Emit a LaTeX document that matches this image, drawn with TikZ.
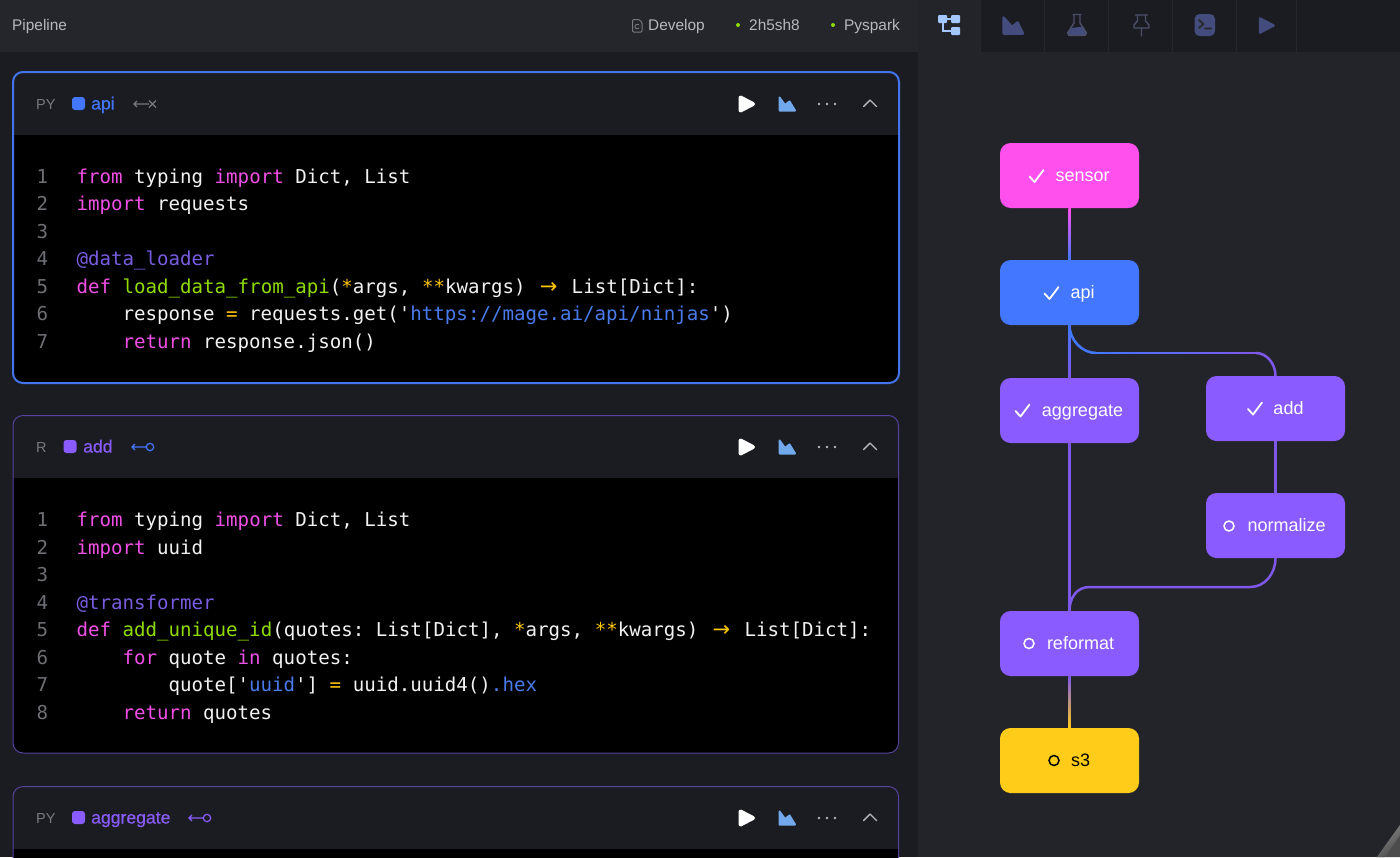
\documentclass[tikz,border=0pt]{standalone}
\usepackage{fontspec}
\setmainfont{Liberation Sans}
\newfontfamily\codefont{DejaVu Sans Mono}
\newfontfamily\arrowfont{DejaVu Sans}
\newfontfamily\headfont[FakeBold=0.35]{Liberation Sans}
\usetikzlibrary{calc}
\definecolor{leftbg}{HTML}{1B1C21}
\definecolor{rightbg}{HTML}{232429}
\definecolor{topbar}{HTML}{25262C}
\definecolor{tabline}{HTML}{26272C}
\definecolor{cpink}{HTML}{FF4FEC}
\definecolor{cblue}{HTML}{4477FF}
\definecolor{cpurple}{HTML}{8A5CFF}
\definecolor{cyellow}{HTML}{FFCC19}
\definecolor{edgec}{HTML}{7E58EA}
\definecolor{kw}{HTML}{F04FE6}
\definecolor{fn}{HTML}{8FDB00}
\definecolor{deco}{HTML}{7A5CE0}
\definecolor{strc}{HTML}{4A7BEA}
\definecolor{opc}{HTML}{FFC60A}
\definecolor{numc}{HTML}{6E6F74}
\definecolor{plain}{HTML}{F2F2F2}
\definecolor{blueb}{HTML}{4474EC}
\definecolor{purpb}{HTML}{58429F}
\definecolor{tabicon}{HTML}{434C7C}
\definecolor{tabline2}{HTML}{4B4F68}
\definecolor{tabact}{HTML}{A3C6FF}
\definecolor{chartb}{HTML}{72A9EC}
\definecolor{uigray}{HTML}{B8B9BD}
\definecolor{dimgray}{HTML}{78797E}
\definecolor{gdot}{HTML}{8FDB00}
\definecolor{midpb}{HTML}{A555F0}
\definecolor{midpy}{HTML}{A08A9A}
\newcommand{\K}[1]{\textcolor{kw}{#1}}
\newcommand{\Fn}[1]{\textcolor{fn}{#1}}
\newcommand{\St}[1]{\textcolor{strc}{#1}}
\newcommand{\Op}[1]{\textcolor{opc}{#1}}
\newcommand{\De}[1]{\textcolor{deco}{#1}}
\newcommand{\Ar}{\textcolor{opc}{\makebox[23.04pt][c]{\arrowfont\fontsize{21}{22}\selectfont →}}}
\tikzset{
  x=1pt,y=-1pt,
  codetext/.style={anchor=base west,inner sep=0pt,outer sep=0pt,text=plain,
    font=\codefont\fontsize{19.13}{22}\selectfont\frenchspacing},
  numtext/.style={anchor=base,inner sep=0pt,text=numc,font=\codefont\fontsize{19.13}{22}\selectfont},
  uitext/.style={anchor=base west,inner sep=0pt,text=uigray,font=\fontsize{15.4}{18}\selectfont},
  headtext/.style={anchor=base west,inner sep=0pt,font=\headfont\fontsize{17.6}{20}\selectfont},
  langtext/.style={anchor=base west,inner sep=0pt,text=dimgray,font=\fontsize{14.5}{18}\selectfont},
  dagbox/.style={rounded corners=10.5pt,minimum width=139pt,minimum height=65pt,inner sep=0pt,outer sep=0pt,
    text=white,text height=12pt,text depth=0pt,font=\fontsize{18}{20}\selectfont},
  checkmark/.style={draw=white,line width=1.8pt,line cap=round,line join=round},
  ring/.style={draw=white,line width=1.5pt},
  edgep/.style={draw=edgec,line width=2.5pt},
  icon/.style={line width=1.4pt,line cap=round,line join=round},
}
\newcommand{\NumAt}[3]{\node[numtext] (#1) at (42.5,#2+7.2) {#3};}
\newcommand{\VGrad}[5]{%
  \shade[top color=#3,middle color=#4,bottom color=#5] ($(#1)+(-1.25,0)$) rectangle ($(#2)+(1.25,0)$);}
\newcommand{\CardToolbar}[1]{%
  \begin{scope}[shift={(0,#1)}]
    \fill[white,draw=white,line width=4pt,line join=round] (740.5,97.5) -- (753,104) -- (740.5,110.5) -- cycle;
    \fill[chartb,draw=chartb,line width=2pt,line join=round] (779.5,97.5) -- (785,105) -- (789.5,101.5) -- (795,110.5) -- (779.5,110.5) -- cycle;
    \fill[uigray] (819,104) circle (1.4) (827,104) circle (1.4) (835,104) circle (1.4);
    \draw[uigray,icon] (863.5,106.5) -- (870,100) -- (876.5,106.5);
  \end{scope}}
\begin{document}
\begin{tikzpicture}
\clip (0,0) rectangle (1400,857);
% backgrounds
\fill[leftbg] (0,0) rectangle (918,857);
\fill[rightbg] (918,0) rectangle (1400,857);
\fill[topbar] (0,0) rectangle (918,52);
\fill[leftbg] (980,0) rectangle (1400,52);
\foreach \sx in {980,1044,1108,1172,1236,1296}{\draw[tabline,line width=1pt] (\sx,0) -- (\sx,52);}
% top bar text
\node[uitext] (pipeline) at (12,30.5) {Pipeline};
\node[uitext] (develop) at (648,30.5) {Develop};
\node[uitext] (hash) at (749,30.5) {2h5sh8};
\node[uitext] (pyspark) at (844,30.5) {Pyspark};
\fill[gdot] (738,25) circle (2) (833,25) circle (2);
\draw[dimgray,line width=1pt,rounded corners=1pt] (632.5,19.5) -- (639,19.5) -- (642,22.5) -- (642,32) -- (632.5,32) -- cycle;
\draw[dimgray,line width=.9pt] (639,28) arc (40:320:2.3);
% tab icons
\fill[tabact,rounded corners=1pt] (938,15) rectangle (947,23);
\fill[tabact,rounded corners=1pt] (951,15) rectangle (960,23);
\fill[tabact,rounded corners=1pt] (951,27) rectangle (960,35);
\draw[tabact,line width=1.5pt] (947,19) -- (951,19);
\draw[tabact,line width=1.5pt] (943,23) -- (943,31) -- (951,31);
\fill[tabicon,draw=tabicon,line width=2.5pt,line join=round] (1003.5,17.5) -- (1012,27) -- (1017.5,22.5) -- (1023,33.5) -- (1003.5,33.5) -- cycle;
\fill[tabicon] (1071,28) -- (1083,26.5) -- (1087,33) -- (1085.5,35.5) -- (1068.5,35.5) -- (1067,33) -- cycle;
\draw[tabline2,icon] (1073,14.5) -- (1081,14.5) (1074,15) -- (1074,23) -- (1067.5,33) -- (1069,35.5) -- (1085,35.5) -- (1086.5,33) -- (1080,23) -- (1080,15);
\draw[tabline2,icon] (1135.5,15) -- (1147.5,15) (1137.5,15) -- (1137.5,21) -- (1134,25) -- (1134,28) -- (1149,28) -- (1149,25) -- (1145.5,21) -- (1145.5,15) (1141.5,28) -- (1141.5,36);
\fill[tabicon,rounded corners=5pt] (1194.5,14) rectangle (1215,36);
\draw[black!85,line width=1.7pt,line cap=round,line join=round] (1199,20) -- (1203.5,24) -- (1199,28) (1205,28.5) -- (1211,28.5);
\fill[tabicon,draw=tabicon,line width=2.5pt,line join=round] (1260,18.5) -- (1273.5,25.5) -- (1260,32.5) -- cycle;
% card 1
\fill[black,rounded corners=10pt] (13,72) rectangle (899,383);
\begin{scope}
  \clip[rounded corners=10pt] (13,72) rectangle (899,383);
  \fill[leftbg] (13,72) rectangle (899,135);
\end{scope}
\draw[blueb,line width=2pt,rounded corners=10pt] (13,72) rectangle (899,383);
% card 2
\fill[black,rounded corners=10pt] (13,415.5) rectangle (898.5,753);
\begin{scope}
  \clip[rounded corners=10pt] (13,415.5) rectangle (898.5,753);
  \fill[leftbg] (13,415.5) rectangle (898.5,478);
\end{scope}
\draw[purpb,line width=1pt,rounded corners=10pt] (13,415.5) rectangle (898.5,753);
% card 3
\fill[black,rounded corners=10pt] (13,786.5) rectangle (898.5,900);
\begin{scope}
  \clip[rounded corners=10pt] (13,786.5) rectangle (898.5,900);
  \fill[leftbg] (13,786.5) rectangle (898.5,849);
\end{scope}
\draw[purpb,line width=1pt,rounded corners=10pt] (13,786.5) rectangle (898.5,900);
% card headers
\node[langtext] (lang1) at (36,109.5) {PY};
\fill[cblue,rounded corners=3pt] (72,97) rectangle (85,110);
\node[headtext,text=cblue] (name1) at (91,109.5) {api};
\draw[dimgray,line width=1.1pt] (137,101) -- (134,104) -- (137,107) (134,104) -- (149,104) (149,100.5) -- (156,107.5) (156,100.5) -- (149,107.5);
\CardToolbar{0}
\node[langtext] (lang2) at (36,452.5) {R};
\fill[cpurple,rounded corners=3pt] (63.5,440) rectangle (76.5,453);
\node[headtext,text=cpurple] (name2) at (83,452.5) {add};
\draw[cblue,line width=1.2pt] (135,444) -- (132,447) -- (135,450) (132,447) -- (146,447) (150,447) circle (3.7);
\CardToolbar{343}
\node[langtext] (lang3) at (36,823.5) {PY};
\fill[cpurple,rounded corners=3pt] (72,811) rectangle (85,824);
\node[headtext,text=cpurple] (name3) at (91,823.5) {aggregate};
\draw[cpurple,line width=1.2pt] (192,815) -- (189,818) -- (192,821) (189,818) -- (203,818) (207,818) circle (3.7);
\CardToolbar{714}
% code card 1
\NumAt{na1}{176}{1}\NumAt{na2}{203.5}{2}\NumAt{na3}{231}{3}\NumAt{na4}{258.5}{4}\NumAt{na5}{286}{5}\NumAt{na6}{313.5}{6}\NumAt{na7}{341}{7}
\node[codetext] (ca1) at (76.5,183.2) {\K{from} typing \K{import} Dict, List};
\node[codetext] (ca2) at (76.5,210.7) {\K{import} requests};
\node[codetext] (ca4) at (76.5,265.7) {\De{@data\_loader}};
\node[codetext] (ca5) at (76.5,293.2) {\K{def} \Fn{load\_data\_from\_api}(\Op{*}args, \Op{**}kwargs) \Ar{} List[Dict]:};
\node[codetext] (ca6) at (122.5,320.7) {response \Op{=} requests.get('\St{https://mage.ai/api/ninjas}')};
\node[codetext] (ca7) at (122.5,348.2) {\K{return} response.json()};
% code card 2
\NumAt{nb1}{519.5}{1}\NumAt{nb2}{547}{2}\NumAt{nb3}{574.5}{3}\NumAt{nb4}{602}{4}\NumAt{nb5}{629.5}{5}\NumAt{nb6}{657}{6}\NumAt{nb7}{684.5}{7}\NumAt{nb8}{712}{8}
\node[codetext] (cb1) at (76.5,526.7) {\K{from} typing \K{import} Dict, List};
\node[codetext] (cb2) at (76.5,554.2) {\K{import} uuid};
\node[codetext] (cb4) at (76.5,609.2) {\De{@transformer}};
\node[codetext] (cb5) at (76.5,636.7) {\K{def} \Fn{add\_unique\_id}(quotes: List[Dict], \Op{*}args, \Op{**}kwargs) \Ar{} List[Dict]:};
\node[codetext] (cb6) at (122.5,664.2) {\K{for} quote \K{in} quotes:};
\node[codetext] (cb7) at (168.5,691.7) {quote['\St{uuid}'] \Op{=} uuid.uuid4()\St{.hex}};
\node[codetext] (cb8) at (122.5,719.2) {\K{return} quotes};
% dag nodes
\node[dagbox,fill=cpink] (sensor) at (1069.5,175.5) {\hspace*{26pt}sensor};
\node[dagbox,fill=cblue] (api) at (1069.5,292.5) {\hspace*{26pt}api};
\node[dagbox,fill=cpurple] (aggregate) at (1069.5,410.5) {\hspace*{26pt}aggregate};
\node[dagbox,fill=cpurple] (add) at (1275.5,408.5) {\hspace*{26pt}add};
\node[dagbox,fill=cpurple] (normalize) at (1275.5,525.5) {\hspace*{22pt}normalize};
\node[dagbox,fill=cpurple] (reformat) at (1069.5,643.5) {\hspace*{22pt}reformat};
\node[dagbox,fill=cyellow,text=black] (sthree) at (1069.5,760.5) {\hspace*{22pt}s3};
% connectors
\VGrad{sensor.south}{api.north}{cpink}{midpb}{cblue}
\VGrad{api.south}{aggregate.north}{cblue}{edgec}{edgec}
\draw[edgep] (aggregate.south) -- (reformat.north);
\VGrad{reformat.south}{sthree.north}{edgec}{midpy}{cyellow}
\coordinate (c1) at ($(api.south)+(26.5,28)$);
\coordinate (c2) at ($(add.north)+(-19.5,-23)$);
\draw[cblue,line width=2.5pt] (api.south) .. controls ($(api.south)+(0,15)$) and ($(c1)+(-14,0)$) .. (c1);
\foreach \i in {0,...,19}{%
  \pgfmathsetmacro{\ta}{\i/20}%
  \pgfmathsetmacro{\tb}{(\i+1)/20}%
  \pgfmathsetmacro{\pc}{100-(\i+.5)/20*100}%
  \colorlet{segc}{cblue!\pc!edgec}%
  \draw[segc,line width=2.5pt] ($(c1)!\ta!(c2)$) -- ($(c1)!\tb!(c2)$);
}
\draw[edgep] (c2) .. controls ($(c2)+(11,0)$) and ($(add.north)+(0,-12)$) .. (add.north);
\coordinate (d1) at ($(normalize.south)+(-25,29)$);
\coordinate (d0) at ($(reformat.north)+(20,0)$);
\coordinate (d2) at (d0 |- d1);
\draw[edgep] (add.south) -- (normalize.north);
\draw[edgep] (normalize.south) .. controls ($(normalize.south)+(0,16)$) and ($(d1)+(14,0)$) .. (d1) -- (d2) .. controls ($(d2)+(-13,0)$) and ($(reformat.north)+(0,-13)$) .. (reformat.north);
% status marks
\draw[checkmark] (1029.5,176.5) -- (1034.5,182) -- (1043.5,170);
\draw[checkmark] (1044.5,293.5) -- (1049.5,299) -- (1058.5,287);
\draw[checkmark] (1015.5,411) -- (1020.5,416.5) -- (1029.5,404.5);
\draw[checkmark] (1248,409) -- (1253,414.5) -- (1262,402.5);
\draw[ring] (1229,526) circle (5);
\draw[ring] (1029,643.5) circle (5);
\draw[ring,draw=black] (1054,760.5) circle (5);
% corner streak
\fill[gray!60!black] (1377,857) -- (1400,825) -- (1400,857) -- cycle;
\shade[left color=gray!95!white,right color=gray!60!black,shading angle=35] (1377,857) -- (1400,825) -- (1400,835) -- (1385,857) -- cycle;
\end{tikzpicture}
\end{document}
